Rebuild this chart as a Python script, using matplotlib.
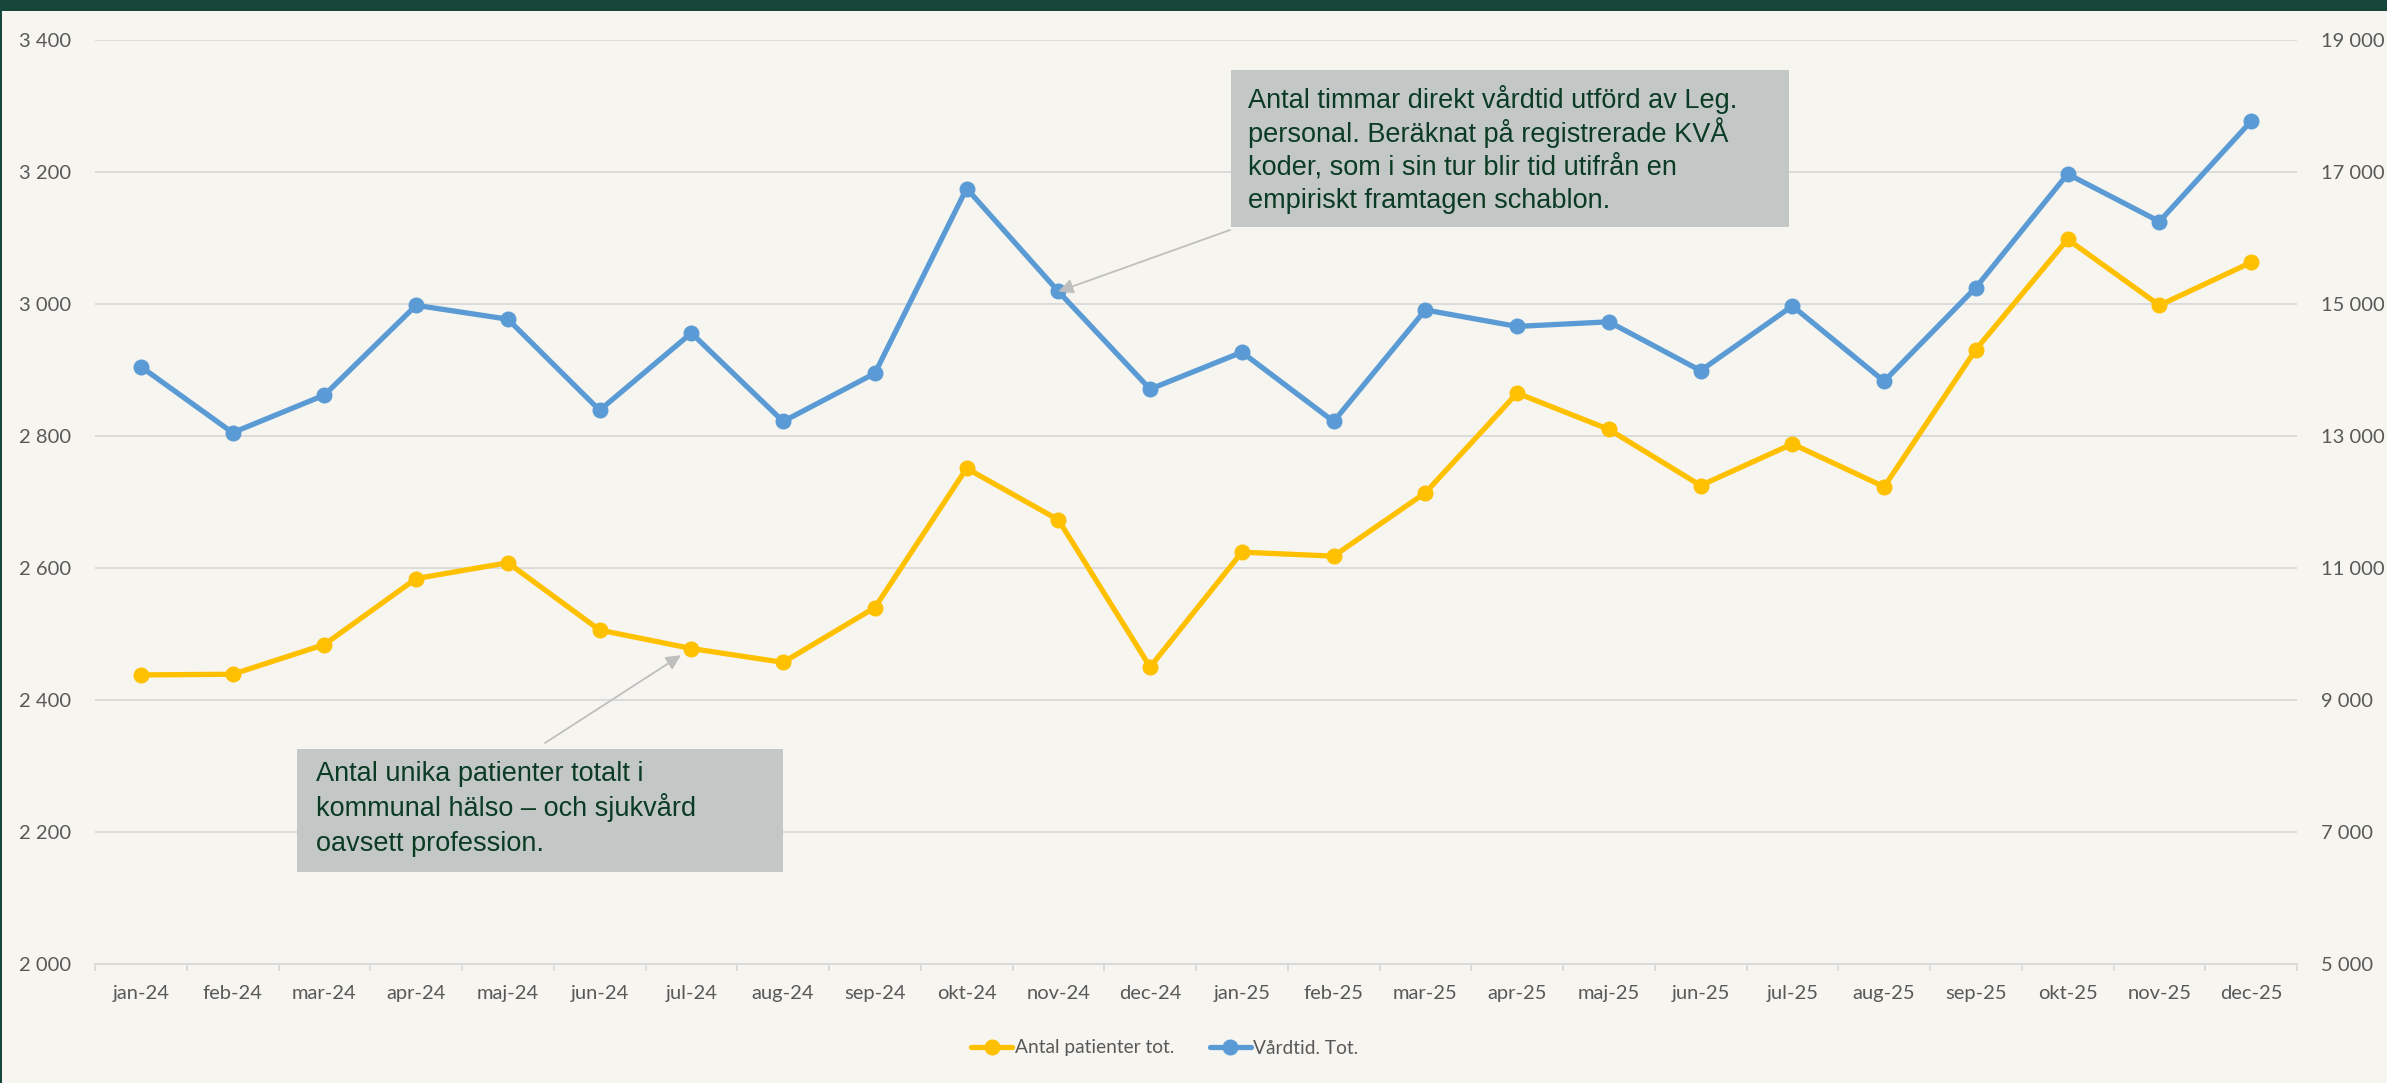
import matplotlib
matplotlib.use("Agg")
import matplotlib.pyplot as plt
from matplotlib.patches import Rectangle
from matplotlib.ticker import FuncFormatter, FixedLocator

months = ["jan-24", "feb-24", "mar-24", "apr-24", "maj-24", "jun-24",
          "jul-24", "aug-24", "sep-24", "okt-24", "nov-24", "dec-24",
          "jan-25", "feb-25", "mar-25", "apr-25", "maj-25", "jun-25",
          "jul-25", "aug-25", "sep-25", "okt-25", "nov-25", "dec-25"]

# left axis
patienter = [2438, 2439, 2484, 2584, 2608, 2506, 2478, 2457, 2540, 2751, 2673, 2450,
             2624, 2618, 2714, 2865, 2810, 2725, 2788, 2723, 2931, 3098, 2998, 3063]
# right axis
vardtid = [14050, 13050, 13620, 14980, 14770, 13390, 14560, 13220, 13950, 16750, 15190, 13710,
           14270, 13220, 14910, 14660, 14730, 13990, 14970, 13830, 15250, 16970, 16250, 17770]

left_ticks = [2000, 2200, 2400, 2600, 2800, 3000, 3200, 3400]
right_ticks = [5000, 7000, 9000, 11000, 13000, 15000, 17000, 19000]

note_vardtid = ["Antal timmar direkt vårdtid utförd av Leg.",
                "personal. Beräknat på registrerade KVÅ",
                "koder, som i sin tur blir tid utifrån en",
                "empiriskt framtagen schablon."]
note_patienter = ["Antal unika patienter totalt i",
                  "kommunal hälso – och sjukvård",
                  "oavsett profession."]

BG = "#F6F5EF"
GREEN = "#17473A"
YELLOW = "#FFC000"
BLUE = "#5B9BD5"
GRID = "#D9D9D9"
TXT = "#595959"
NOTE_TXT = "#0B3B24"
NOTE_BG = "#C3C8C7"
NOTE_FONT = ["Liberation Sans", "DejaVu Sans"]

W, H = 2387, 1083
plt.rcParams["font.family"] = ["Lato", "DejaVu Sans"]

fig = plt.figure(figsize=(W / 100, H / 100), dpi=100, facecolor=BG)
ax = fig.add_axes([95 / W, 1 - 964 / H, (2297 - 95) / W, (964 - 40) / H])
ax.set_facecolor(BG)
ax2 = ax.twinx()

x = list(range(len(months)))
l1, = ax.plot(x, patienter, color=YELLOW, lw=3.8, marker="o", ms=10.5,
              label="Antal patienter tot.", solid_capstyle="round", zorder=3)
l2, = ax2.plot(x, vardtid, color=BLUE, lw=3.8, marker="o", ms=10.5,
               label="Vårdtid. Tot.", solid_capstyle="round", zorder=3)

ax.set_xlim(-0.5, len(months) - 0.5)
ax.set_ylim(2000, 3400)
ax2.set_ylim(5000, 19000)
ax.set_yticks(left_ticks)
ax2.set_yticks(right_ticks)
fmt = FuncFormatter(lambda v, p: f"{v:,.0f}".replace(",", " "))
ax.yaxis.set_major_formatter(fmt)
ax2.yaxis.set_major_formatter(fmt)
ax.grid(axis="y", color=GRID, lw=1.3)
ax.set_axisbelow(True)

ax.set_xticks(x)
ax.set_xticklabels(months)
ax.xaxis.set_minor_locator(FixedLocator([i - 0.5 for i in range(len(months) + 1)]))
ax.tick_params(axis="x", which="major", length=0, pad=15, labelsize=14.5, labelcolor=TXT)
ax.tick_params(axis="x", which="minor", length=5, width=1.3, color=GRID)
ax.tick_params(axis="y", length=0, pad=17, labelsize=14.5, labelcolor=TXT)
ax2.tick_params(axis="y", length=0, pad=17, labelsize=14.5, labelcolor=TXT)

for a in (ax, ax2):
    for s in ("top", "left", "right"):
        a.spines[s].set_visible(False)
    a.spines["bottom"].set_color(GRID)
    a.spines["bottom"].set_linewidth(1.3)


def note(lines, x0, y0, w, h, tx, first_base, pitch):
    # grey box in reference pixel units, one text line at a time for even spacing
    fig.add_artist(Rectangle((x0 / W, 1 - (y0 + h) / H), w / W, h / H,
                             transform=fig.transFigure, facecolor=NOTE_BG,
                             edgecolor="none", zorder=5))
    for i, line in enumerate(lines):
        fig.text(tx / W, 1 - (first_base + i * pitch) / H, line, ha="left",
                 va="baseline", fontsize=19.5, color=NOTE_TXT, family=NOTE_FONT, zorder=6)


note(note_vardtid, 1231, 70, 558, 157, 1248, 108, 33.5)
ax2.annotate("", xy=(10, vardtid[10]), xytext=(1230, H - 230), textcoords="figure pixels",
             arrowprops=dict(arrowstyle="-|>", color="#BFBFBF", lw=1.3, mutation_scale=22,
                             shrinkA=0, shrinkB=0), zorder=6)

note(note_patienter, 297, 749, 486, 123, 316, 781, 35)
ax.annotate("", xy=(6, patienter[6]), xytext=(545, H - 743), textcoords="figure pixels",
            arrowprops=dict(arrowstyle="-|>", color="#BFBFBF", lw=1.3, mutation_scale=22,
                            shrinkA=0, shrinkB=9), zorder=6)

fig.legend(handles=[l1, l2], loc="center", bbox_to_anchor=(1165 / W, 1 - 1048 / H),
           ncol=2, frameon=False, fontsize=13.8, labelcolor=TXT, handlelength=2.1,
           handletextpad=0.15, columnspacing=1.9)

# frame decoration
fig.add_artist(Rectangle((0, 1 - 11 / H), 1, 11 / H, transform=fig.transFigure,
                         facecolor=GREEN, edgecolor="none"))
fig.add_artist(Rectangle((0, 0), 2 / W, 1, transform=fig.transFigure,
                         facecolor=GREEN, edgecolor="none"))

fig.savefig("out.png", dpi=100, facecolor=BG)
